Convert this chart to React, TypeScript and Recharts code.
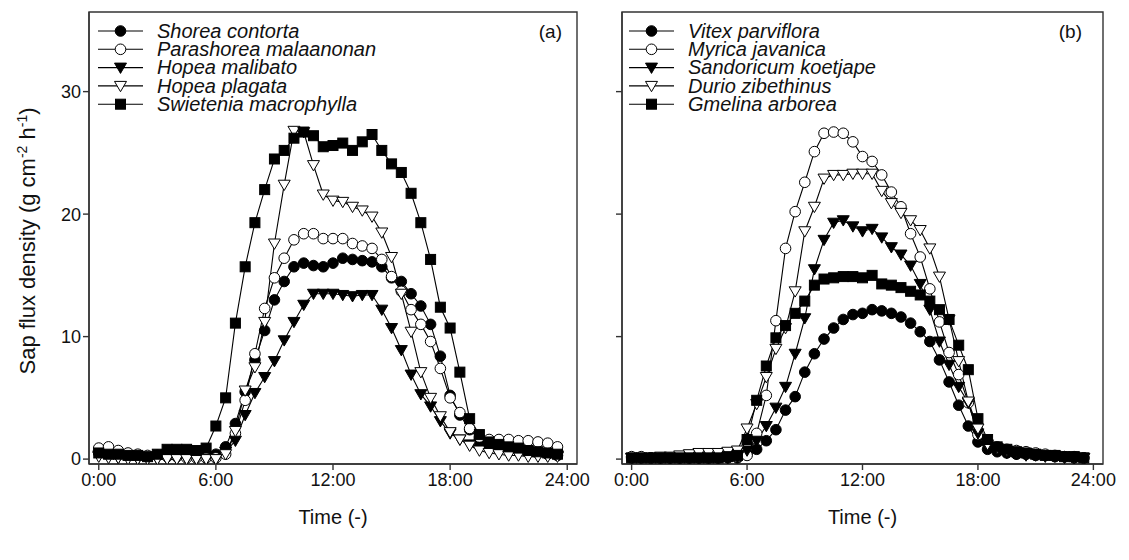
import React from 'react';
import { LineChart, Line, XAxis, YAxis, Legend, ReferenceArea } from 'recharts';

// half-hourly time stamps (hours)
const hours = [
  0, 0.5, 1, 1.5, 2, 2.5, 3, 3.5, 4, 4.5, 5, 5.5,
  6, 6.5, 7, 7.5, 8, 8.5, 9, 9.5, 10, 10.5, 11, 11.5,
  12, 12.5, 13, 13.5, 14, 14.5, 15, 15.5, 16, 16.5, 17, 17.5,
  18, 18.5, 19, 19.5, 20, 20.5, 21, 21.5, 22, 22.5, 23, 23.5,
];
const timeTicks = [0, 6, 12, 18, 24];
const fluxTicks = [0, 10, 20, 30];

// panel (a)
const shoreaContorta = [
  0.5, 0.5, 0.4, 0.3, 0.3, 0.2, 0.3, 0.4, 0.4, 0.4, 0.4, 0.3,
  0.4, 1.0, 2.9, 5.5, 8.1, 10.5, 13.0, 14.5, 15.7, 16.0, 15.8, 15.7,
  16.0, 16.4, 16.3, 16.2, 16.1, 15.7, 14.8, 14.5, 13.5, 12.5, 11.0, 8.4,
  5.2, 3.6, 2.4, 1.6, 1.2, 1.0, 0.8, 0.7, 0.6, 0.5, 0.4, 0.3,
];
const parashoreaMalaanonan = [
  0.9, 1.0, 0.7, 0.5, 0.4, 0.3, 0.3, 0.2, 0.2, 0.1, 0.1, 0.1,
  0.1, 0.4, 2.1, 4.8, 8.6, 12.3, 14.8, 16.4, 17.9, 18.4, 18.4, 18.0,
  18.0, 18.0, 17.6, 17.4, 17.2, 16.3, 14.9, 13.7, 12.2, 11.0, 9.6, 7.4,
  5.0, 3.8, 2.5, 1.8, 1.6, 1.6, 1.6, 1.5, 1.5, 1.4, 1.3, 1.0,
];
const hopeaMalibato = [
  0.3, 0.2, 0.1, 0.1, 0.0, 0.0, 0.0, 0.0, 0.0, 0.0, 0.0, 0.0,
  0.0, 0.6, 1.5, 3.6, 5.4, 6.7, 8.0, 9.7, 11.2, 12.6, 13.5, 13.5,
  13.5, 13.4, 13.3, 13.4, 13.4, 12.2, 10.7, 8.9, 6.9, 5.3, 4.3, 3.1,
  2.1, 1.6, 1.2, 1.0, 0.8, 0.7, 0.6, 0.5, 0.4, 0.4, 0.3, 0.3,
];
const hopeaPlagata = [
  0.2, 0.1, 0.1, 0.0, 0.0, 0.0, 0.0, 0.0, 0.0, 0.0, 0.0, 0.0,
  0.0, 0.4, 2.3, 5.6, 7.5, 11.2, 17.6, 22.4, 26.8, 26.7, 24.0, 21.6,
  21.1, 21.0, 20.6, 20.3, 19.8, 18.5, 16.5, 13.5, 10.4, 7.1, 5.0, 3.5,
  2.2, 1.6, 1.1, 0.7, 0.5, 0.4, 0.3, 0.3, 0.2, 0.2, 0.2, 0.2,
];
const swieteniaMacrophylla = [
  0.5, 0.4, 0.4, 0.3, 0.3, 0.2, 0.4, 0.8, 0.8, 0.8, 0.7, 0.9,
  2.7, 5.0, 11.1, 15.7, 19.3, 22.0, 24.5, 25.2, 26.2, 26.7, 26.4, 25.5,
  25.6, 25.8, 25.2, 25.9, 26.5, 25.2, 24.1, 23.4, 21.7, 19.3, 16.3, 12.4,
  10.7, 7.1, 3.3, 2.0, 1.4, 1.2, 1.0, 0.9, 0.7, 0.6, 0.5, 0.4,
];

// panel (b)
const vitexParviflora = [
  0.1, 0.1, 0.1, 0.1, 0.1, 0.1, 0.1, 0.1, 0.1, 0.1, 0.1, 0.1,
  0.4, 0.8, 1.5, 2.4, 4.0, 5.1, 7.1, 8.6, 9.8, 10.7, 11.4, 11.8,
  11.9, 12.2, 12.1, 11.9, 11.6, 11.1, 10.4, 9.6, 8.1, 6.3, 4.4, 2.7,
  1.4, 0.8, 0.6, 0.5, 0.4, 0.4, 0.3, 0.3, 0.2, 0.2, 0.1, 0.1,
];
const myricaJavanica = [
  0.2, 0.2, 0.1, 0.1, 0.1, 0.1, 0.1, 0.1, 0.1, 0.1, 0.2, 0.2,
  0.3, 2.1, 5.2, 11.3, 17.2, 20.2, 22.6, 25.1, 26.6, 26.7, 26.6, 25.9,
  24.7, 24.3, 23.2, 21.8, 20.6, 18.4, 16.5, 13.9, 11.2, 8.7, 6.9, 4.6,
  2.0, 1.3, 1.0, 0.8, 0.7, 0.6, 0.5, 0.4, 0.3, 0.2, 0.2, 0.1,
];
const sandoricumKoetjape = [
  0.1, 0.1, 0.1, 0.1, 0.1, 0.1, 0.1, 0.1, 0.1, 0.1, 0.1, 0.2,
  0.7, 1.5, 2.7, 4.2, 5.9, 8.6, 11.5, 15.5, 17.9, 19.3, 19.5, 19.0,
  18.6, 18.8, 18.1, 17.3, 16.7, 15.8, 14.3, 12.2, 9.6, 7.7, 5.9, 4.6,
  2.1, 1.0, 0.7, 0.5, 0.4, 0.3, 0.3, 0.2, 0.2, 0.1, 0.1, 0.1,
];
const durioZibethinus = [
  0.1, 0.1, 0.1, 0.2, 0.2, 0.3, 0.4, 0.5, 0.5, 0.5, 0.6, 0.7,
  2.5, 4.5, 6.7, 9.0, 10.7, 13.7, 18.6, 20.6, 22.9, 23.2, 23.2, 23.3,
  23.3, 23.3, 21.9, 20.9, 20.1, 19.5, 18.7, 17.2, 14.9, 11.4, 8.0, 4.7,
  2.5, 1.2, 0.9, 0.7, 0.6, 0.5, 0.4, 0.3, 0.3, 0.2, 0.2, 0.1,
];
const gmelinaArborea = [
  0.1, 0.1, 0.1, 0.1, 0.1, 0.1, 0.1, 0.1, 0.1, 0.1, 0.2, 0.3,
  1.6, 4.8, 7.6, 9.9, 10.9, 11.9, 12.9, 14.2, 14.7, 14.8, 14.9, 14.9,
  14.8, 15.0, 14.3, 14.2, 14.0, 13.7, 13.4, 12.9, 12.2, 11.4, 9.3, 7.3,
  3.3, 1.6, 1.0, 0.8, 0.6, 0.5, 0.4, 0.3, 0.3, 0.2, 0.2, 0.1,
];

const FONT = '"Liberation Sans", Arial, Helvetica, sans-serif';

type Shape = 'circle' | 'square' | 'triangle';
interface Series {
  key: string;
  name: string;
  values: number[];
  shape: Shape;
  filled: boolean;
}

const seriesA: Series[] = [
  { key: 'sc', name: 'Shorea contorta', values: shoreaContorta, shape: 'circle', filled: true },
  { key: 'pm', name: 'Parashorea malaanonan', values: parashoreaMalaanonan, shape: 'circle', filled: false },
  { key: 'hm', name: 'Hopea malibato', values: hopeaMalibato, shape: 'triangle', filled: true },
  { key: 'hp', name: 'Hopea plagata', values: hopeaPlagata, shape: 'triangle', filled: false },
  { key: 'sm', name: 'Swietenia macrophylla', values: swieteniaMacrophylla, shape: 'square', filled: true },
];
const seriesB: Series[] = [
  { key: 'vp', name: 'Vitex parviflora', values: vitexParviflora, shape: 'circle', filled: true },
  { key: 'mj', name: 'Myrica javanica', values: myricaJavanica, shape: 'circle', filled: false },
  { key: 'sk', name: 'Sandoricum koetjape', values: sandoricumKoetjape, shape: 'triangle', filled: true },
  { key: 'dz', name: 'Durio zibethinus', values: durioZibethinus, shape: 'triangle', filled: false },
  { key: 'ga', name: 'Gmelina arborea', values: gmelinaArborea, shape: 'square', filled: true },
];

const Marker = ({ cx, cy, shape, filled }: { cx: number; cy: number; shape: Shape; filled: boolean }) => {
  const fill = filled ? '#000' : '#fff';
  if (shape === 'circle') {
    return <circle cx={cx} cy={cy} r={5.3} fill={fill} stroke="#000" strokeWidth={1} />;
  }
  if (shape === 'square') {
    return <rect x={cx - 5} y={cy - 5} width={10} height={10} fill={fill} stroke="#000" strokeWidth={1} />;
  }
  return (
    <polygon
      points={`${cx - 6},${cy - 4.5} ${cx + 6},${cy - 4.5} ${cx},${cy + 5.8}`}
      fill={fill}
      stroke="#000"
      strokeWidth={1}
    />
  );
};

interface PanelProps {
  series: Series[];
  tag: string;
  left: number; // page x of chart div
  width: number;
  plotLeft: number; // page x of plot frame
  plotRight: number;
  yAxisWidth: number;
  showYLabels: boolean;
  legendLeft: number; // page x of legend symbol start
  tagRight: number; // page x of (a)/(b) right edge
}

const Panel: React.FC<PanelProps> = ({
  series, tag, left, width, plotLeft, plotRight, yAxisWidth, showYLabels, legendLeft, tagRight,
}) => {
  const data = hours.map((h, i) => {
    const row: Record<string, number> = { h };
    series.forEach((s) => { row[s.key] = s.values[i]; });
    return row;
  });
  const xAxisHeight = 64;
  const margin = {
    top: 12,
    bottom: 560 - 464 - xAxisHeight,
    left: plotLeft - left - yAxisWidth,
    right: width - (plotRight - left),
  };
  const lgLeft = legendLeft - left;
  const lgWidth = plotRight - legendLeft - 4;

  const renderLegend = () => (
    <svg width={lgWidth} height={100} style={{ overflow: 'visible' }}>
      {series.map((s, i) => {
        const cy = 11 + i * 18.3;
        return (
          <g key={s.key}>
            <line x1={0} x2={45} y1={cy} y2={cy} stroke="#000" strokeWidth={1.1} />
            <Marker cx={22.5} cy={cy} shape={s.shape} filled={s.filled} />
            <text x={59} y={cy + 6.8} fontSize={20} fontStyle="italic" fontFamily={FONT} fill="#111">
              {s.name}
            </text>
          </g>
        );
      })}
      <text x={tagRight - legendLeft} y={17.5} textAnchor="end" fontSize={19} fontFamily={FONT} fill="#111">
        {tag}
      </text>
    </svg>
  );

  return (
    <div style={{ position: 'absolute', left, top: 0, width, height: 560 }}>
      <LineChart width={width} height={560} data={data} margin={margin}>
        <XAxis
          dataKey="h"
          type="number"
          domain={[-0.5, 24.5]}
          ticks={timeTicks}
          allowDataOverflow
          tickFormatter={(v: number) => `${v}:00`}
          tick={{ fill: '#111', fontSize: 18, fontFamily: FONT }}
          tickSize={6}
          tickMargin={3}
          stroke="#333"
          strokeWidth={1.4}
          height={xAxisHeight}
          label={{ value: 'Time (-)', position: 'insideBottom', offset: 4, fill: '#111', fontSize: 20, fontFamily: FONT }}
        />
        <YAxis
          type="number"
          domain={[-0.4, 36.5]}
          ticks={fluxTicks}
          allowDataOverflow
          tickFormatter={(v: number) => (showYLabels ? String(v) : '')}
          tick={{ fill: '#111', fontSize: 18, fontFamily: FONT }}
          tickSize={6}
          tickMargin={2}
          stroke="#333"
          strokeWidth={1.4}
          width={yAxisWidth}
        />
        <ReferenceArea
          x1={-0.5}
          x2={24.5}
          y1={-0.4}
          y2={36.5}
          fill="none"
          stroke="#333"
          strokeWidth={1.4}
          ifOverflow="visible"
        />
        {series.map((s) => (
          <Line
            key={s.key}
            dataKey={s.key}
            name={s.name}
            type="linear"
            stroke="#000"
            strokeWidth={1.1}
            isAnimationActive={false}
            dot={(p: any) => (
              <Marker key={`${s.key}-${p.index}`} cx={p.cx} cy={p.cy} shape={s.shape} filled={s.filled} />
            )}
            activeDot={false}
          />
        ))}
        <Legend
          layout="horizontal"
          verticalAlign="middle"
          align="center"
          content={renderLegend}
          wrapperStyle={{ left: lgLeft, top: 20, width: lgWidth, height: 100 }}
        />
      </LineChart>
    </div>
  );
};

const App: React.FC = () => (
  <div style={{ position: 'absolute', left: 0, top: 0, width: 1129, height: 560, background: '#fff', overflow: 'hidden' }}>
    <svg width={60} height={560} style={{ position: 'absolute', left: 0, top: 0 }}>
      <text transform="translate(35,241) rotate(-90)" textAnchor="middle" fontSize={22} fontFamily={FONT} fill="#111">
        Sap flux density (g cm
        <tspan dy={-8} fontSize={14}>-2</tspan>
        <tspan dy={8}> h</tspan>
        <tspan dy={-8} fontSize={14}>-1</tspan>
        <tspan dy={8}>)</tspan>
      </text>
    </svg>
    <Panel
      series={seriesA}
      tag="(a)"
      left={0}
      width={590}
      plotLeft={89}
      plotRight={577}
      yAxisWidth={50}
      showYLabels
      legendLeft={98}
      tagRight={562}
    />
    <Panel
      series={seriesB}
      tag="(b)"
      left={590}
      width={539}
      plotLeft={622}
      plotRight={1103}
      yAxisWidth={20}
      showYLabels={false}
      legendLeft={629}
      tagRight={1082}
    />
  </div>
);

export default App;
